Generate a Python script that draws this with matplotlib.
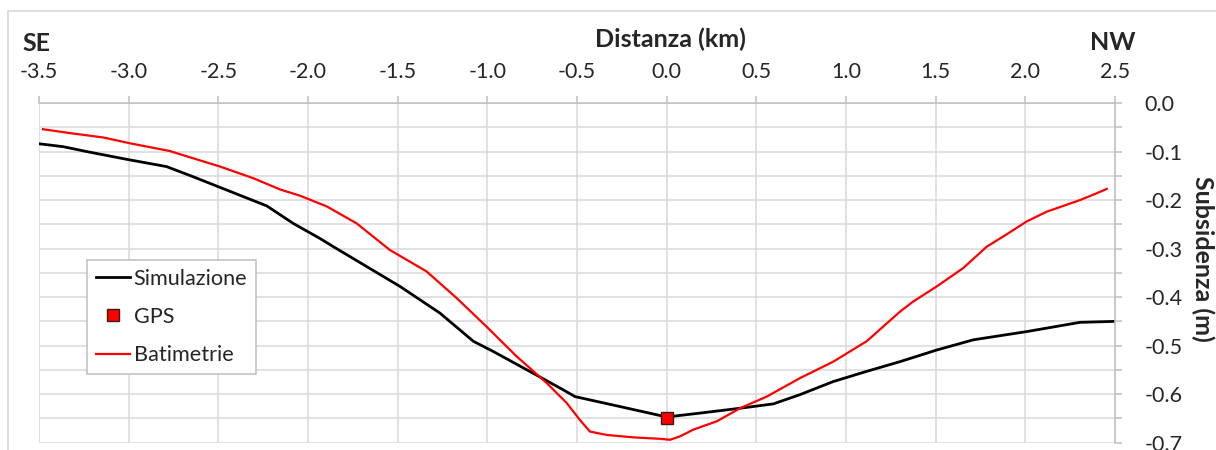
import matplotlib
matplotlib.use('Agg')
import matplotlib.pyplot as plt
from matplotlib.patches import Rectangle
from matplotlib.ticker import MultipleLocator

plt.rcParams['font.family'] = ['Lato', 'DejaVu Sans']

# Simulazione (black)
sim_x = [-3.5, -3.365, -3.235, -3.012, -2.789, -2.64, -2.49, -2.23, -2.083, -1.934,
         -1.859, -1.673, -1.487, -1.264, -1.078, -0.967, -0.744, -0.577, -0.511, -0.279,
         0.0, 0.186, 0.409, 0.595, 0.743, 0.929, 1.115, 1.301, 1.506, 1.71, 2.008, 2.305, 2.5]
sim_y = [-0.084, -0.090, -0.100, -0.116, -0.131, -0.152, -0.174, -0.212, -0.248, -0.279,
         -0.296, -0.337, -0.378, -0.433, -0.491, -0.512, -0.557, -0.591, -0.605, -0.624,
         -0.647, -0.639, -0.629, -0.620, -0.601, -0.574, -0.553, -0.533, -0.509, -0.488,
         -0.471, -0.452, -0.450]

# Batimetrie (red)
bat_x = [-3.478, -3.328, -3.142, -2.993, -2.77, -2.64, -2.49, -2.305, -2.157, -2.045,
         -1.896, -1.729, -1.543, -1.339, -1.171, -1.004, -0.837, -0.669, -0.558, -0.484,
         -0.428, -0.335, -0.186, -0.037, 0.019, 0.074, 0.149, 0.279, 0.409, 0.558,
         0.743, 0.929, 1.115, 1.301, 1.375, 1.506, 1.654, 1.785, 1.877, 2.008,
         2.119, 2.305, 2.398, 2.454]
bat_y = [-0.054, -0.062, -0.071, -0.083, -0.099, -0.114, -0.131, -0.155, -0.178, -0.191,
         -0.213, -0.248, -0.303, -0.347, -0.402, -0.461, -0.522, -0.577, -0.618, -0.653,
         -0.677, -0.684, -0.689, -0.692, -0.694, -0.687, -0.673, -0.656, -0.629, -0.605,
         -0.567, -0.533, -0.491, -0.430, -0.409, -0.378, -0.340, -0.296, -0.275, -0.244,
         -0.224, -0.200, -0.186, -0.177]

# GPS
gps_x = [0.0]
gps_y = [-0.65]

W, H = 1216, 450
fig = plt.figure(figsize=(W / 100, H / 100), dpi=100)
fig.patches.append(Rectangle((8 / W, -0.1), 1.2, 1 - 11 / H + 0.1, transform=fig.transFigure,
                             fill=False, edgecolor='#d9d9d9', lw=1.2))

ax = fig.add_axes([39 / W, 1 - 442.7 / H, (1115 - 39) / W, (442.7 - 103) / H])
ax.set_xlim(-3.5, 2.5)
ax.set_ylim(-0.7, 0.0)

grid = '#d9d9d9'
ax.xaxis.set_major_locator(MultipleLocator(0.5))
ax.yaxis.set_major_locator(MultipleLocator(0.1))
ax.yaxis.set_minor_locator(MultipleLocator(0.05))
ax.grid(True, which='major', color=grid, lw=1.1)
ax.grid(True, which='minor', axis='y', color=grid, lw=1.1)
ax.set_axisbelow(True)

ax.xaxis.tick_top()
ax.yaxis.tick_right()
for s in ['left', 'bottom']:
    ax.spines[s].set_visible(False)
for s in ['top', 'right']:
    ax.spines[s].set_color('#bfbfbf')
    ax.spines[s].set_linewidth(1.1)
ax.tick_params(axis='x', which='major', direction='out', length=5, width=1.1,
               color='#bfbfbf', pad=10, labelsize=15.5, labelcolor='#262626')
ax.tick_params(axis='y', which='both', direction='out', length=5, width=1.1,
               color='#bfbfbf', pad=16, labelsize=15.5, labelcolor='#262626')
ax.xaxis.set_major_formatter(lambda v, p: f'{v:.1f}')
ax.yaxis.set_major_formatter(lambda v, p: f'{v:.1f}')

ax.plot(sim_x, sim_y, color='black', lw=2.0, label='Simulazione', solid_joinstyle='round')
ax.plot(gps_x, gps_y, linestyle='none', marker='s', markersize=8, markerfacecolor='#ff0000',
        markeredgecolor='#3a1a1a', markeredgewidth=1.0, label='GPS', zorder=5)
ax.plot(bat_x, bat_y, color='#ff0000', lw=1.6, label='Batimetrie', solid_joinstyle='round')

leg = ax.legend(loc='upper left', bbox_to_anchor=(87 / W, 1 - 260 / H),
                bbox_transform=fig.transFigure, borderaxespad=0, fancybox=False,
                framealpha=1, edgecolor='#bfbfbf', fontsize=15.6, handlelength=1.6,
                handletextpad=0.15, labelspacing=0.85, borderpad=0.4)
leg.get_frame().set_linewidth(1.1)
for t in leg.get_texts():
    t.set_color('#262626')

fig.text(670.5 / W, 1 - 46.7 / H, 'Distanza (km)', ha='center', va='baseline',
         fontsize=18, fontweight='bold', color='#262626')
fig.text(22.7 / W, 1 - 50.7 / H, 'SE', ha='left', va='baseline',
         fontsize=18, fontweight='bold', color='#262626')
fig.text(1112.5 / W, 1 - 50 / H, 'NW', ha='center', va='baseline',
         fontsize=18, fontweight='bold', color='#262626')
fig.text(1203 / W, 1 - 259 / H, 'Subsidenza (m)', ha='center', va='center', rotation=270,
         fontsize=18, fontweight='bold', color='#262626')

fig.savefig('out.png', dpi=100)
